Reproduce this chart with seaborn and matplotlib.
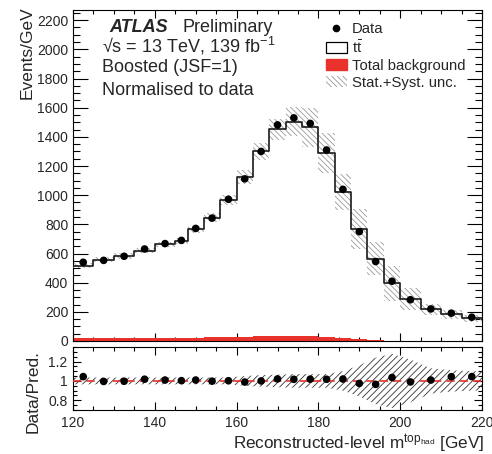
import numpy as np
import pandas as pd
import matplotlib
matplotlib.use("Agg")
import matplotlib.pyplot as plt
import seaborn as sns
from matplotlib.ticker import MultipleLocator, FixedLocator
from matplotlib.lines import Line2D
from matplotlib.patches import Patch

sns.set_theme(style="ticks")
plt.rcParams["font.family"] = ["Liberation Sans", "DejaVu Sans"]
plt.rcParams["mathtext.fontset"] = "custom"
plt.rcParams["mathtext.rm"] = "Liberation Sans"
plt.rcParams["mathtext.it"] = "Liberation Sans:italic"
plt.rcParams["mathtext.bf"] = "Liberation Sans:bold"
plt.rcParams["hatch.linewidth"] = 0.6

# Binning of the reconstructed hadronic top mass [GeV]
bin_edges = [120, 125, 130, 135, 140, 145, 148, 152, 156, 160, 164, 168,
             172, 176, 180, 184, 188, 192, 196, 200, 205, 210, 215, 220]

# Events/GeV per bin
ttbar = [497, 536, 562, 599, 640, 665, 741, 820, 943, 1096, 1269, 1418,
         1470, 1432, 1258, 998, 758, 559, 394, 286, 218, 183, 156]
background = [20, 20, 21, 21, 22, 23, 24, 25, 27, 29, 31, 34,
              35, 33, 30, 22, 12, 6, 2, 0, 0, 0, 0]
data = [540, 553, 581, 631, 668, 690, 772, 843, 972, 1112, 1300, 1482,
        1530, 1492, 1310, 1040, 750, 545, 410, 283, 220, 191, 163]

# Relative stat.+syst. uncertainty of the prediction
rel_unc = [0.03, 0.03, 0.03, 0.03, 0.03, 0.03, 0.03, 0.035, 0.035, 0.04, 0.045, 0.05,
           0.068, 0.09, 0.106, 0.12, 0.18, 0.20, 0.30, 0.26, 0.17, 0.18, 0.15]
# Uncertainty band shown in the ratio panel
ratio_unc = [0.035, 0.035, 0.035, 0.035, 0.035, 0.035, 0.035, 0.035, 0.035, 0.05, 0.06, 0.065,
             0.07, 0.07, 0.07, 0.10, 0.16, 0.24, 0.28, 0.22, 0.13, 0.11, 0.10]

edges = np.array(bin_edges, dtype=float)
centers = 0.5 * (edges[:-1] + edges[1:])
df = pd.DataFrame({
    "center": centers,
    "ttbar": np.array(ttbar, dtype=float),
    "bkg": np.array(background, dtype=float),
    "data": np.array(data, dtype=float),
})
df["total"] = df["ttbar"] + df["bkg"]
df["ratio"] = df["data"] / df["total"]
unc = np.array(rel_unc) * df["total"].to_numpy()
total = df["total"].to_numpy()

RED = "#e8322b"
HATCH_GREY = "#9a9a9a"

fig = plt.figure(figsize=(4.92, 4.54), dpi=100)
ax = fig.add_axes([73 / 492, 1 - 341 / 454, 409 / 492, 331 / 454])
rax = fig.add_axes([73 / 492, 1 - 410 / 454, 409 / 492, 63 / 454])

# --- main panel ---
sns.histplot(data=df, x="center", weights="bkg", bins=list(bin_edges), element="step",
             fill=True, color=RED, alpha=1.0, linewidth=0, ax=ax, zorder=2)
lo = np.append(total - unc, (total - unc)[-1])
hi = np.append(total + unc, (total + unc)[-1])
ax.fill_between(edges, lo, hi, step="post", facecolor="none",
                edgecolor=HATCH_GREY, hatch="\\\\\\\\\\\\", linewidth=0, zorder=3)
sns.histplot(data=df, x="center", weights="total", bins=list(bin_edges), element="step",
             fill=False, color="#1a1a1a", linewidth=1.2, ax=ax, zorder=4)
sns.scatterplot(data=df, x="center", y="data", color="black", s=30,
                edgecolor="none", ax=ax, zorder=6, legend=False)

ax.set_xlim(120, 220)
ax.set_ylim(0, 2270)
ax.set_xlabel("")
ax.set_ylabel("Events/GeV", fontsize=12.5, loc="top")
ax.yaxis.set_label_coords(-0.093, 1.012)
ax.yaxis.set_major_locator(MultipleLocator(200))
ax.yaxis.set_minor_locator(MultipleLocator(50))
ax.xaxis.set_major_locator(MultipleLocator(20))
ax.xaxis.set_minor_locator(MultipleLocator(5))
ax.tick_params(axis="both", which="both", direction="in", top=True, right=True,
               labelbottom=False, width=0.8, color="black")
ax.tick_params(axis="y", which="major", length=10.5, labelsize=10, pad=3.5)
ax.tick_params(axis="y", which="minor", length=5.2)
ax.tick_params(axis="x", which="major", length=6)
ax.tick_params(axis="x", which="minor", length=3)
for s in ax.spines.values():
    s.set_linewidth(0.8)
    s.set_color("black")

fig.text(109 / 492, 1 - 31.7 / 454, "ATLAS", fontsize=13, fontweight="bold",
         fontstyle="italic", va="baseline")
fig.text(183 / 492, 1 - 31.7 / 454, "Preliminary", fontsize=13, va="baseline")
fig.text(102 / 492, 1 - 52.3 / 454, "\u221as = 13 TeV, 139 fb$^{\\mathrm{-1}}$",
         fontsize=13, va="baseline")
fig.text(102 / 492, 1 - 72.3 / 454, "Boosted (JSF=1)", fontsize=13, va="baseline")
fig.text(102 / 492, 1 - 95 / 454, "Normalised to data", fontsize=13, va="baseline")

handles = [
    Line2D([], [], marker="o", color="black", linestyle="none", markersize=4.5),
    Patch(facecolor="white", edgecolor="black", linewidth=0.9),
    Patch(facecolor=RED, edgecolor=RED),
    Patch(facecolor="none", edgecolor=HATCH_GREY, hatch="\\\\\\\\\\\\", linewidth=0),
]
labels = ["Data", r"$\mathrm{t\bar{t}}$", "Total background", "Stat.+Syst. unc."]
ax.legend(handles, labels, loc="upper left", bbox_to_anchor=(326 / 492, 1 - 22 / 454),
          bbox_transform=fig.transFigure, frameon=False, fontsize=10.7,
          handlelength=1.41, handleheight=0.8, labelspacing=0.2,
          handletextpad=0.35, borderpad=0, borderaxespad=0)

# --- ratio panel ---
xs = np.concatenate([[edges[0]], centers, [edges[-1]]])
ru = np.array(ratio_unc)
ru_ext = np.concatenate([[ru[0]], ru, [ru[-1]]])
rax.fill_between(xs, 1 - ru_ext, 1 + ru_ext, facecolor="none", edgecolor="#333333",
                 hatch="/////", linewidth=0, zorder=2)
rax.axhline(1.0, color=RED, linestyle=(0, (5, 3)), linewidth=1.2, zorder=3)
sns.scatterplot(data=df, x="center", y="ratio", color="black", s=30,
                edgecolor="none", ax=rax, zorder=5, legend=False)

rax.set_xlim(120, 220)
rax.set_ylim(0.70, 1.35)
rax.yaxis.set_major_locator(FixedLocator([0.8, 1.0, 1.2]))
rax.set_yticklabels(["0.8", "1", "1.2"])
rax.yaxis.set_minor_locator(MultipleLocator(0.05))
rax.xaxis.set_major_locator(MultipleLocator(20))
rax.xaxis.set_minor_locator(MultipleLocator(5))
rax.tick_params(axis="both", which="both", direction="in", top=True, right=True,
                width=0.8, color="black")
rax.tick_params(axis="both", which="major", labelsize=10, pad=4)
rax.tick_params(axis="x", which="major", length=6)
rax.tick_params(axis="x", which="minor", length=3)
rax.tick_params(axis="y", which="major", length=6)
rax.tick_params(axis="y", which="minor", length=3)
rax.set_ylabel("Data/Pred.", fontsize=12.5)
rax.yaxis.set_label_coords(-0.078, 0.30)
rax.set_xlabel(r"Reconstructed-level m$^{\mathrm{top}_{\mathrm{had}}}$ [GeV]",
               fontsize=12.3, loc="right")
rax.xaxis.set_label_coords(1.005, -0.36)
for s in rax.spines.values():
    s.set_linewidth(0.8)
    s.set_color("black")

fig.savefig("out.png", dpi=100)
